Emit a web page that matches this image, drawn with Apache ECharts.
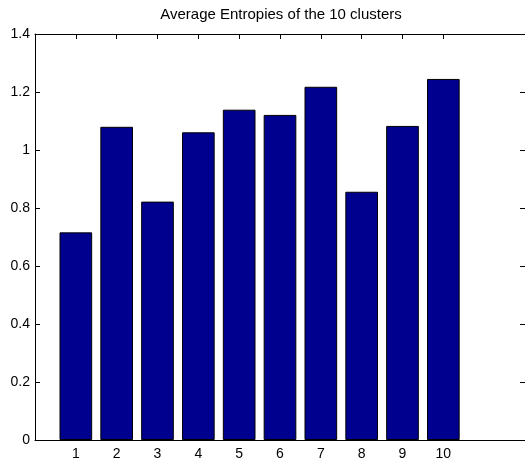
<!DOCTYPE html>
<html>
<head>
<meta charset="utf-8">
<script src="https://cdn.jsdelivr.net/npm/echarts@6/dist/echarts.min.js"></script>
<style>html,body{margin:0;padding:0;background:#fff;}#c{width:525px;height:461px;}</style>
</head>
<body>
<div id="c"></div>
<script>
const titleText = 'Average Entropies of the 10 clusters';
const clusters = [1, 2, 3, 4, 5, 6, 7, 8, 9, 10];
const entropies = [0.716, 1.080, 0.822, 1.061, 1.139, 1.121, 1.218, 0.856, 1.083, 1.245];
const yTicks = [0, 0.2, 0.4, 0.6, 0.8, 1, 1.2, 1.4];

const chart = echarts.init(document.getElementById('c'), null, {renderer: 'canvas'});
const font = 'Liberation Sans, Arial, Helvetica, sans-serif';
const lineStyle = {color: '#000', width: 1};
chart.setOption({
  animation: false,
  backgroundColor: '#fff',
  title: {
    text: titleText, left: 281, top: 7, textAlign: 'center', padding: 0,
    textStyle: {fontFamily: font, fontSize: 15, fontWeight: 'normal', color: '#000'}
  },
  grid: {left: 35, right: -2, top: 34, bottom: 20, containLabel: false},
  xAxis: [{
    type: 'value', min: 0, max: 12, interval: 1, position: 'bottom',
    axisLine: {show: true, onZero: false, lineStyle},
    axisTick: {show: true, inside: true, length: 5, customValues: clusters, lineStyle},
    axisLabel: {show: true, customValues: clusters, margin: 7, fontFamily: font, fontSize: 14, color: '#000'},
    splitLine: {show: false}
  }, {
    type: 'value', min: 0, max: 12, interval: 1, position: 'top',
    axisLine: {show: true, onZero: false, lineStyle},
    axisTick: {show: true, inside: true, length: 5, customValues: clusters, lineStyle},
    axisLabel: {show: false},
    splitLine: {show: false}
  }],
  yAxis: [{
    type: 'value', min: 0, max: 1.4, interval: 0.2, position: 'left',
    axisLine: {show: true, onZero: false, lineStyle},
    axisTick: {show: true, inside: true, length: 5, lineStyle},
    axisLabel: {show: true, margin: 5, fontFamily: font, fontSize: 14, color: '#000',
      customValues: yTicks},
    splitLine: {show: false}
  }, {
    type: 'value', min: 0, max: 1.4, interval: 0.2, position: 'right',
    axisLine: {show: true, onZero: false, lineStyle},
    axisTick: {show: true, inside: true, length: 5, lineStyle},
    axisLabel: {show: false},
    splitLine: {show: false}
  }],
  series: [{
    type: 'bar',
    xAxisIndex: 0, yAxisIndex: 0,
    barWidth: '80%',
    data: clusters.map((c, i) => [c, entropies[i]]),
    itemStyle: {color: '#00008F', borderColor: '#000', borderWidth: 1},
    emphasis: {disabled: true}
  }]
});
</script>
</body>
</html>
